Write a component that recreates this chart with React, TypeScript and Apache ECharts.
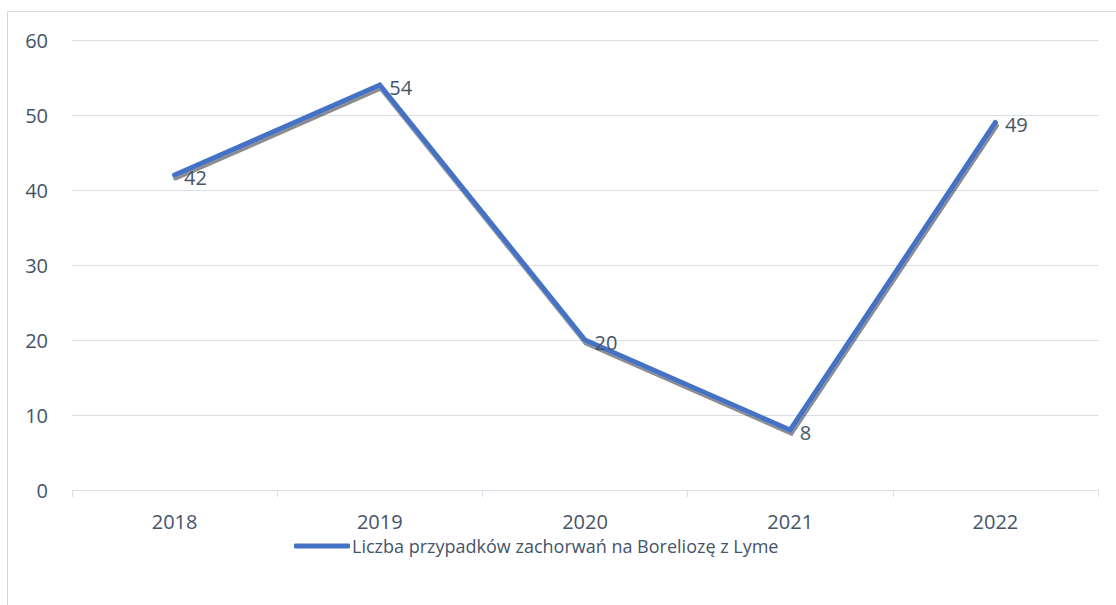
import React, { useEffect, useRef } from "react";
import * as echarts from "echarts";

const categories = ["2018", "2019", "2020", "2021", "2022"];
const values = [42, 54, 20, 8, 49];
const seriesName = "Liczba przypadków zachorwań na Boreliozę z Lyme";

const TEXT = "#44546A";
const GRID = "#D9DEE6";
const FONT = "Open Sans";

export default function App() {
  const ref = useRef<HTMLDivElement>(null);
  useEffect(() => {
    const chart = echarts.init(ref.current!, null, { renderer: "svg" });
    chart.setOption({
      animation: false,
      backgroundColor: "#fff",
      textStyle: { fontFamily: FONT },
      graphic: [
        {
          type: "rect",
          shape: { x: 7.5, y: 11.5, width: 1200, height: 700 },
          style: { fill: "none", stroke: "#D3D7DD", lineWidth: 1 },
          silent: true,
          z: -1,
        },
      ],
      grid: { left: 72, right: 18, top: 40, bottom: 115 },
      legend: {
        top: 537,
        left: 294,
        padding: 0,
        data: [seriesName],
        icon: "roundRect",
        itemWidth: 56,
        itemHeight: 5,
        itemGap: 0,
        itemStyle: { color: "#4472C4", opacity: 1 },
        textStyle: { color: TEXT, fontSize: 18, fontFamily: FONT, padding: [0, 0, 0, -3] },
      },
      xAxis: {
        type: "category",
        data: categories,
        boundaryGap: true,
        axisLine: { lineStyle: { color: GRID, width: 1 } },
        axisTick: { show: true, length: 7, lineStyle: { color: GRID } },
        axisLabel: { color: TEXT, fontSize: 20, margin: 21, fontFamily: FONT },
      },
      yAxis: {
        type: "value",
        min: 0,
        max: 60,
        interval: 10,
        axisLine: { show: false },
        axisTick: { show: false },
        splitLine: { lineStyle: { color: GRID, width: 1 } },
        axisLabel: { color: TEXT, fontSize: 20, margin: 24, fontFamily: FONT },
      },
      series: [
        {
          name: seriesName,
          type: "line",
          data: values,
          symbol: "circle",
          symbolSize: 1,
          showSymbol: true,
          lineStyle: {
            color: "#4472C4",
            width: 5,
            cap: "round",
            join: "miter",
            shadowColor: "rgba(0,0,0,0.45)",
            shadowBlur: 1,
            shadowOffsetX: 1,
            shadowOffsetY: 3,
          },
          itemStyle: { color: "#4472C4", opacity: 0 },
          label: {
            show: true,
            position: "right",
            distance: 9,
            offset: [0, 2],
            color: TEXT,
            fontSize: 20,
            fontFamily: FONT,
            opacity: 1,
          },
        },
      ],
    });
    return () => chart.dispose();
  }, []);
  return <div ref={ref} style={{ width: 1116, height: 605, position: "absolute", left: 0, top: 0 }} />;
}
